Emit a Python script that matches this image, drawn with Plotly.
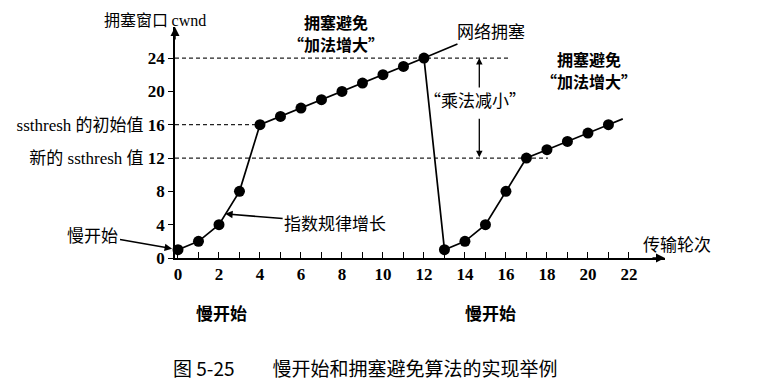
import plotly.graph_objects as go

# ---- data ----
rounds_a = [0, 1, 2, 3, 4, 5, 6, 7, 8, 9, 10, 11, 12]
cwnd_a = [1, 2, 4, 8, 16, 17, 18, 19, 20, 21, 22, 23, 24]
rounds_b = [13, 14, 15, 16, 17, 18, 19, 20, 21]
cwnd_b = [1, 2, 4, 8, 12, 13, 14, 15, 16]
tail_rounds = [21, 21.7]
tail_cwnd = [16, 16.7]

x_tick_vals = list(range(0, 23))
x_tick_text = ["<b>%d</b>" % v if v % 2 == 0 else "" for v in x_tick_vals]
y_tick_vals = [0, 4, 8, 12, 16, 20, 24]
y_tick_text = ["<b>0</b>", "<b>4</b>", "<b>8</b>", "新的 ssthresh 值 <b>12</b>",
               "ssthresh 的初始值 <b>16</b>", "<b>20</b>", "<b>24</b>"]

ssthresh_init = 16
ssthresh_new = 12
peak = 24

SERIF = "Liberation Serif, Noto Sans CJK SC"
CJK = "Noto Sans CJK SC, Liberation Serif"

XMIN, XMAX = -0.146, 23.76
YMIN, YMAX = 0, 27.73

# page has an 8px body margin; figure is sized to fit the 763x383 window
OFF = 8
W, H = 763 - OFF, 383 - OFF
L, R, T, B = 175 - OFF, 98, 27 - OFF, 125
pw, ph = W - L - R, H - T - B


def paper(xp, yp):
    """window pixel -> paper coords"""
    return (xp - OFF - L) / pw, (T + ph - (yp - OFF)) / ph


fig = go.Figure()

fig.add_trace(go.Scatter(
    x=rounds_a + rounds_b, y=cwnd_a + cwnd_b, mode="lines+markers",
    line=dict(color="black", width=1.7),
    marker=dict(color="black", size=11),
    cliponaxis=False, showlegend=False, hoverinfo="skip"))
fig.add_trace(go.Scatter(
    x=tail_rounds, y=tail_cwnd, mode="lines",
    line=dict(color="black", width=1.7),
    cliponaxis=False, showlegend=False, hoverinfo="skip"))

dash = dict(color="#222", width=1.2, dash="4px,3px")
fig.add_shape(type="line", x0=XMIN, x1=16.2, y0=peak, y1=peak, line=dash, layer="below")
fig.add_shape(type="line", x0=XMIN, x1=4, y0=ssthresh_init, y1=ssthresh_init, line=dash, layer="below")
fig.add_shape(type="line", x0=XMIN, x1=18.05, y0=ssthresh_new, y1=ssthresh_new, line=dash, layer="below")

ann = []


def ptext(xp, yp, text, size=17, family=CJK):
    px_, py_ = paper(xp, yp)
    ann.append(dict(x=px_, y=py_, xref="paper", yref="paper", text=text, showarrow=False,
                    xanchor="center", yanchor="middle", align="center", borderpad=0,
                    font=dict(family=family, size=size, color="black")))


# axis arrowheads
ann.append(dict(x=XMAX, y=0, xref="x", yref="y", ax=-14, ay=0, text="", showarrow=True,
                arrowhead=2, arrowsize=1.2, arrowwidth=1.5, arrowcolor="black"))
ann.append(dict(x=XMIN, y=YMAX, xref="x", yref="y", ax=0, ay=14, text="", showarrow=True,
                arrowhead=2, arrowsize=1.2, arrowwidth=1.5, arrowcolor="black"))
# multiplicative decrease double arrow
ann.append(dict(x=14.7, y=24.0, xref="x", yref="y", axref="x", ayref="y", ax=14.7, ay=20.3,
                text="", showarrow=True, arrowhead=2, arrowsize=1, arrowwidth=1.3, arrowcolor="black"))
ann.append(dict(x=14.7, y=12.1, xref="x", yref="y", axref="x", ayref="y", ax=14.7, ay=16.9,
                text="", showarrow=True, arrowhead=2, arrowsize=1, arrowwidth=1.3, arrowcolor="black"))
ann.append(dict(x=14.5, y=19.0, xref="x", yref="y", text="“乘法减小”", showarrow=False,
                font=dict(family=CJK, size=17, color="black")))

# arrows pointing at data
ann.append(dict(x=12, y=24, xref="x", yref="y", ax=67, ay=-28, text="网络拥塞", showarrow=True,
                arrowhead=0, arrowwidth=1.6, arrowcolor="black", standoff=0,
                font=dict(family=CJK, size=17, color="black")))
ann.append(dict(x=0, y=1, xref="x", yref="y", ax=-85, ay=-15, text="慢开始", showarrow=True,
                arrowhead=2, arrowsize=1, arrowwidth=1.5, arrowcolor="black", standoff=6,
                font=dict(family=CJK, size=17, color="black")))
ann.append(dict(x=2.3, y=5.3, xref="x", yref="y", ax=110, ay=9, text="指数规律增长", showarrow=True,
                arrowhead=2, arrowsize=1, arrowwidth=1.5, arrowcolor="black",
                font=dict(family=CJK, size=17, color="black")))

# free text
ptext(155, 19, "拥塞窗口 <span style='font-family:Liberation Serif'>cwnd</span>", size=16)
ptext(336, 22, "<b>拥塞避免</b>", size=16)
ptext(336, 44, "<b>“加法增大”</b>", size=16)
ptext(589, 59, "<b>拥塞避免</b>", size=16)
ptext(589, 81, "<b>“加法增大”</b>", size=16)
ptext(677, 243, "传输轮次")
ptext(221, 312, "<b>慢开始</b>")
ptext(490, 312, "<b>慢开始</b>")
ptext(365, 367, "图 5-25　　慢开始和拥塞避免算法的实现举例", size=19)

fig.update_layout(
    width=W, height=H, margin=dict(l=L, r=R, t=T, b=B, autoexpand=False),
    paper_bgcolor="white", plot_bgcolor="white",
    annotations=ann, showlegend=False,
    xaxis=dict(range=[XMIN, XMAX], showgrid=False, zeroline=False, showline=True,
               linecolor="black", linewidth=1.6, ticks="inside", ticklen=6, tickwidth=1.3,
               tickcolor="black", tickvals=x_tick_vals, ticktext=x_tick_text, automargin=False,
               tickfont=dict(family=SERIF, size=17, color="black")),
    yaxis=dict(range=[YMIN, YMAX], showgrid=False, zeroline=False, showline=True,
               linecolor="black", linewidth=1.6, ticks="outside", ticklen=5, tickwidth=1.3,
               tickcolor="black", tickvals=y_tick_vals, ticktext=y_tick_text, automargin=False,
               tickfont=dict(family=SERIF, size=17, color="black")),
)

fig.write_html("out.html")
